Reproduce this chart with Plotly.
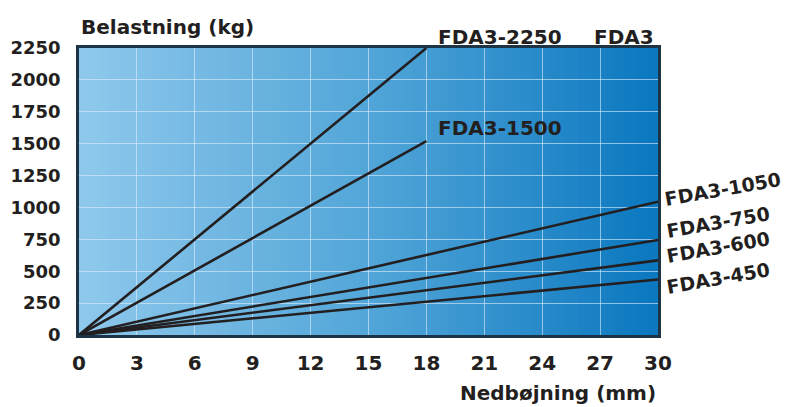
import plotly.graph_objects as go
import numpy as np

# Data
series_names = ["FDA3-2250", "FDA3-1500", "FDA3-1050", "FDA3-750", "FDA3-600", "FDA3-450"]
x_end = [18, 18, 30, 30, 30, 30]
y_end = [2250, 1520, 1045, 745, 585, 435]
x_ticks = [0, 3, 6, 9, 12, 15, 18, 21, 24, 27, 30]
y_ticks = [0, 250, 500, 750, 1000, 1250, 1500, 1750, 2000, 2250]

FONT = "DejaVu Sans"
FS = 20
TXT = "#231f20"

fig = go.Figure()

for name, xe, ye in zip(series_names, x_end, y_end):
    fig.add_trace(go.Scatter(x=[0, xe], y=[0, ye], mode="lines", name=name,
                             line=dict(color=TXT, width=2.6), showlegend=False,
                             hoverinfo="skip"))

# gradient background
stops = [(0.0, (143, 200, 236)), (0.5, (82, 166, 216)), (1.0, (10, 119, 191))]
def interp(t):
    for (t0, c0), (t1, c1) in zip(stops[:-1], stops[1:]):
        if t <= t1:
            f = (t - t0) / (t1 - t0)
            return tuple(int(round(a + (b - a) * f)) for a, b in zip(c0, c1))
    return stops[-1][1]

shapes = []
N = 80
for i in range(N):
    t = (i + 0.5) / N
    c = interp(t)
    shapes.append(dict(type="rect", xref="x", yref="y", x0=30 * i / N, x1=min(30, 30 * (i + 1) / N + 0.05),
                       y0=0, y1=2250, fillcolor="rgb(%d,%d,%d)" % c, line=dict(width=0),
                       layer="below"))

def font(s=FS):
    return dict(size=s, color=TXT, family=FONT)

annotations = [
    dict(text="<b>Belastning (kg)</b>", xref="paper", yref="paper", x=0.0, y=1.073,
         xanchor="left", yanchor="middle", showarrow=False, font=font()),
    dict(text="<b>Nedbøjning (mm)</b>", xref="paper", yref="paper", x=1.0, y=-0.202,
         xanchor="right", yanchor="middle", showarrow=False, font=font()),
    dict(text="<b>FDA3-2250</b>", xref="x", yref="paper", x=18.5, y=1.04,
         xanchor="left", yanchor="middle", showarrow=False, font=font()),
    dict(text="<b>FDA3</b>", xref="x", yref="paper", x=29.9, y=1.04,
         xanchor="right", yanchor="middle", showarrow=False, font=font()),
    dict(text="<b>FDA3-1500</b>", xref="x", yref="y", x=18.5, y=1623,
         xanchor="left", yanchor="middle", showarrow=False, font=font()),
]
rot = [("FDA3-1050", 1.112, 0.509), ("FDA3-750", 1.104, 0.394),
       ("FDA3-600", 1.104, 0.307), ("FDA3-450", 1.104, 0.199)]
for t, px, py in rot:
    annotations.append(dict(text="<b>%s</b>" % t, xref="paper", yref="paper", x=px, y=py,
                            xanchor="center", yanchor="middle", textangle=-10, showarrow=False,
                            font=font(19)))

fig.update_layout(
    width=782, height=399,
    margin=dict(l=71, r=132, t=40, b=72, autoexpand=False),
    paper_bgcolor="white", plot_bgcolor="rgba(0,0,0,0)",
    shapes=shapes, annotations=annotations,
    font=dict(family=FONT, color=TXT),
)
fig.update_xaxes(range=[0, 30], tickvals=x_ticks, ticktext=["<b>%d</b>" % v for v in x_ticks],
                 tickfont=font(), automargin=False,
                 showgrid=True, gridcolor="rgba(225,238,250,0.6)", gridwidth=1,
                 showline=True, mirror=True, linecolor="#1d3346", linewidth=2.5,
                 zeroline=False, ticks="", ticklabelstandoff=8, fixedrange=True)
fig.update_yaxes(range=[0, 2250], tickvals=y_ticks, ticktext=["<b>%d</b>" % v for v in y_ticks],
                 tickfont=font(18), automargin=False,
                 showgrid=True, gridcolor="rgba(225,238,250,0.6)", gridwidth=1,
                 showline=True, mirror=True, linecolor="#1d3346", linewidth=2.5,
                 zeroline=False, ticks="", ticklabelstandoff=12, fixedrange=True)

fig.write_html("out.html", config={"displayModeBar": False})
